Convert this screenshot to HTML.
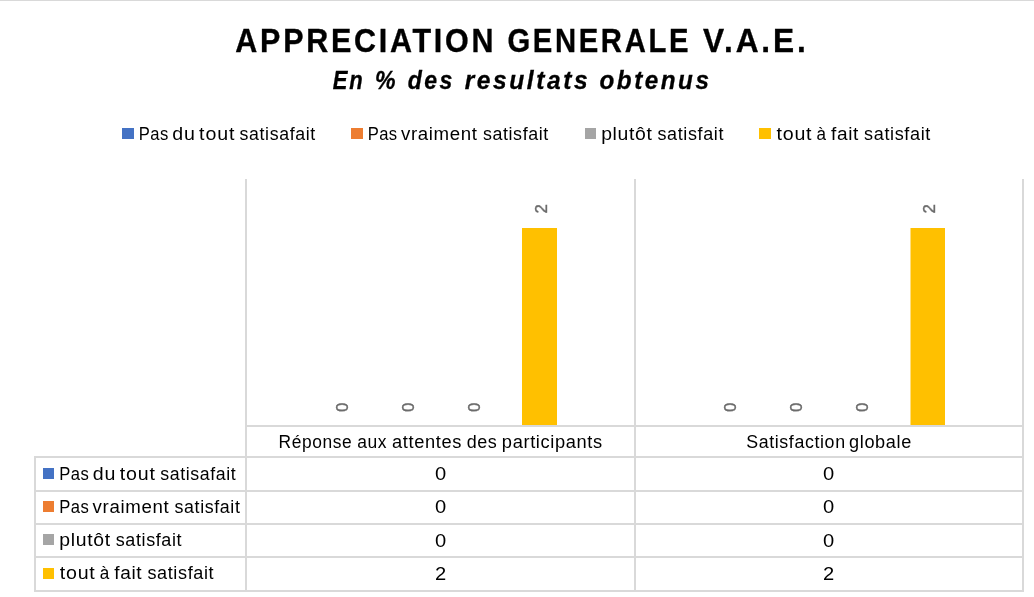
<!DOCTYPE html>
<html lang="fr">
<head>
<meta charset="utf-8">
<title>APPRECIATION GENERALE V.A.E.</title>
<style>
html,body{margin:0;padding:0;background:#fff;}
body{width:1034px;height:597px;overflow:hidden;position:relative;}
svg{position:absolute;left:0;top:0;display:block;}
text{font-family:"Liberation Sans",sans-serif;fill:#000;}
.t1{font-size:33.3px;font-weight:bold;stroke:#000;stroke-width:0.35px;}
.t2{font-size:25px;font-weight:bold;font-style:italic;stroke:#000;stroke-width:0.3px;}
.lg{font-size:17.5px;}
.dl{font-size:16.8px;fill:#6b6b6b;stroke:#6b6b6b;stroke-width:0.4px;}
.gl{fill:#d9d9d9;}
</style>
</head>
<body>
<svg width="1034" height="597" viewBox="0 0 1034 597">
<rect x="0" y="0" width="1034" height="597" fill="#ffffff"/>
<rect class="gl" x="0" y="0" width="1034" height="1"/>

<!-- legend markers -->
<rect x="122" y="128" width="12" height="11" fill="#4472c4"/>
<rect x="351" y="128" width="12" height="11" fill="#ed7d31"/>
<rect x="585" y="128" width="11" height="11" fill="#a5a5a5"/>
<rect x="759" y="128" width="12" height="11" fill="#ffc000"/>

<!-- grid / table lines -->
<rect class="gl" x="245" y="179" width="2" height="413"/>
<rect class="gl" x="634" y="179" width="2" height="413"/>
<rect class="gl" x="1022" y="179" width="2" height="413"/>
<rect class="gl" x="34" y="456" width="2" height="136"/>
<rect class="gl" x="245" y="425" width="779" height="2"/>
<rect class="gl" x="34" y="456" width="990" height="2"/>
<rect class="gl" x="34" y="490" width="990" height="2"/>
<rect class="gl" x="34" y="523" width="990" height="2"/>
<rect class="gl" x="34" y="556" width="990" height="2"/>
<rect class="gl" x="34" y="590" width="990" height="2"/>

<!-- bars -->
<rect x="522" y="228" width="35" height="197" fill="#ffc000"/>
<rect x="910.5" y="228" width="34.5" height="197" fill="#ffc000"/>

<!-- data labels -->
<text class="dl" transform="translate(348,411.9) rotate(-90)">0</text>
<text class="dl" transform="translate(414,411.9) rotate(-90)">0</text>
<text class="dl" transform="translate(480,411.9) rotate(-90)">0</text>
<text class="dl" transform="translate(547,213.6) rotate(-90)">2</text>
<text class="dl" transform="translate(736,411.9) rotate(-90)">0</text>
<text class="dl" transform="translate(802,411.9) rotate(-90)">0</text>
<text class="dl" transform="translate(868,411.9) rotate(-90)">0</text>
<text class="dl" transform="translate(934.6,213.6) rotate(-90)">2</text>

<!-- table row markers -->
<rect x="43" y="468" width="11" height="11" fill="#4472c4"/>
<rect x="43" y="501" width="11" height="11" fill="#ed7d31"/>
<rect x="43" y="534" width="11" height="11" fill="#a5a5a5"/>
<rect x="43" y="568" width="11" height="11" fill="#ffc000"/>

<!-- table values -->
<text class="lg" x="440.5" y="480" text-anchor="middle" textLength="11.2" lengthAdjust="spacingAndGlyphs">0</text>
<text class="lg" x="828.7" y="480" text-anchor="middle" textLength="11.2" lengthAdjust="spacingAndGlyphs">0</text>
<text class="lg" x="440.5" y="513" text-anchor="middle" textLength="11.2" lengthAdjust="spacingAndGlyphs">0</text>
<text class="lg" x="828.7" y="513" text-anchor="middle" textLength="11.2" lengthAdjust="spacingAndGlyphs">0</text>
<text class="lg" x="440.5" y="547" text-anchor="middle" textLength="11.2" lengthAdjust="spacingAndGlyphs">0</text>
<text class="lg" x="828.7" y="547" text-anchor="middle" textLength="11.2" lengthAdjust="spacingAndGlyphs">0</text>
<text class="lg" x="440.5" y="580" text-anchor="middle" textLength="11.2" lengthAdjust="spacingAndGlyphs">2</text>
<text class="lg" x="828.7" y="580" text-anchor="middle" textLength="11.2" lengthAdjust="spacingAndGlyphs">2</text>

<!-- title, subtitle, legend text, table header, row labels -->
<text class="t1" y="51.9"><tspan x="235.35" textLength="260.77" lengthAdjust="spacingAndGlyphs" style="letter-spacing:3.0px">APPRECIATION</tspan> <tspan x="507.45" textLength="183.6" lengthAdjust="spacingAndGlyphs" style="letter-spacing:3.0px">GENERALE</tspan> <tspan x="702.95" textLength="105.65" lengthAdjust="spacingAndGlyphs" style="letter-spacing:3.0px">V.A.E.</tspan></text>
<text class="t2" y="89.0"><tspan x="332.8" textLength="31.45" lengthAdjust="spacingAndGlyphs" style="letter-spacing:1.89px">En</tspan> <tspan x="375.05" textLength="20.53" lengthAdjust="spacingAndGlyphs" style="letter-spacing:0px">%</tspan> <tspan x="407.85" textLength="46.97" lengthAdjust="spacingAndGlyphs" style="letter-spacing:2.6px">des</tspan> <tspan x="464.7" textLength="125.5" lengthAdjust="spacingAndGlyphs" style="letter-spacing:2.6px">resultats</tspan> <tspan x="599.55" textLength="111.89" lengthAdjust="spacingAndGlyphs" style="letter-spacing:2.6px">obtenus</tspan></text>
<text class="lg" y="139.7"><tspan x="138.75" textLength="29.86" lengthAdjust="spacingAndGlyphs" style="letter-spacing:0.43px">Pas</tspan> <tspan x="172.25" textLength="23.4" lengthAdjust="spacingAndGlyphs" style="letter-spacing:0.71px">du</tspan> <tspan x="199.05" textLength="36.29" lengthAdjust="spacingAndGlyphs" style="letter-spacing:0.8px">tout</tspan> <tspan x="239.6" textLength="76.18" lengthAdjust="spacingAndGlyphs" style="letter-spacing:0.6px">satisafait</tspan></text>
<text class="lg" y="139.7"><tspan x="367.65" textLength="29.86" lengthAdjust="spacingAndGlyphs" style="letter-spacing:0.43px">Pas</tspan> <tspan x="401.0" textLength="76.66" lengthAdjust="spacingAndGlyphs" style="letter-spacing:0.6px">vraiment</tspan> <tspan x="482.9" textLength="66.0" lengthAdjust="spacingAndGlyphs" style="letter-spacing:0.6px">satisfait</tspan></text>
<text class="lg" y="139.7"><tspan x="601.15" textLength="51.44" lengthAdjust="spacingAndGlyphs" style="letter-spacing:0.6px">plutôt</tspan> <tspan x="657.5" textLength="66.51" lengthAdjust="spacingAndGlyphs" style="letter-spacing:0.6px">satisfait</tspan></text>
<text class="lg" y="139.7"><tspan x="776.55" textLength="35.75" lengthAdjust="spacingAndGlyphs" style="letter-spacing:0.68px">tout</tspan> <tspan x="816.45" textLength="9.52" lengthAdjust="spacingAndGlyphs" style="letter-spacing:0px">à</tspan> <tspan x="830.95" textLength="28.04" lengthAdjust="spacingAndGlyphs" style="letter-spacing:0.6px">fait</tspan> <tspan x="864.1" textLength="66.82" lengthAdjust="spacingAndGlyphs" style="letter-spacing:0.6px">satisfait</tspan></text>
<text class="lg" y="447.6"><tspan x="278.6" textLength="73.79" lengthAdjust="spacingAndGlyphs" style="letter-spacing:0.6px">Réponse</tspan> <tspan x="357.15" textLength="29.97" lengthAdjust="spacingAndGlyphs" style="letter-spacing:0.6px">aux</tspan> <tspan x="391.95" textLength="70.06" lengthAdjust="spacingAndGlyphs" style="letter-spacing:0.6px">attentes</tspan> <tspan x="466.65" textLength="30.82" lengthAdjust="spacingAndGlyphs" style="letter-spacing:0.6px">des</tspan> <tspan x="501.85" textLength="100.99" lengthAdjust="spacingAndGlyphs" style="letter-spacing:0.6px">participants</tspan></text>
<text class="lg" y="447.6"><tspan x="746.15" textLength="99.52" lengthAdjust="spacingAndGlyphs" style="letter-spacing:0.6px">Satisfaction</tspan> <tspan x="849.05" textLength="62.83" lengthAdjust="spacingAndGlyphs" style="letter-spacing:0.6px">globale</tspan></text>
<text class="lg" y="479.7"><tspan x="59.35" textLength="29.86" lengthAdjust="spacingAndGlyphs" style="letter-spacing:0.43px">Pas</tspan> <tspan x="92.85" textLength="23.4" lengthAdjust="spacingAndGlyphs" style="letter-spacing:0.71px">du</tspan> <tspan x="119.65" textLength="36.29" lengthAdjust="spacingAndGlyphs" style="letter-spacing:0.8px">tout</tspan> <tspan x="160.2" textLength="76.18" lengthAdjust="spacingAndGlyphs" style="letter-spacing:0.6px">satisafait</tspan></text>
<text class="lg" y="512.8"><tspan x="59.25" textLength="29.86" lengthAdjust="spacingAndGlyphs" style="letter-spacing:0.43px">Pas</tspan> <tspan x="92.6" textLength="76.66" lengthAdjust="spacingAndGlyphs" style="letter-spacing:0.6px">vraiment</tspan> <tspan x="174.5" textLength="66.0" lengthAdjust="spacingAndGlyphs" style="letter-spacing:0.6px">satisfait</tspan></text>
<text class="lg" y="545.7"><tspan x="59.35" textLength="51.44" lengthAdjust="spacingAndGlyphs" style="letter-spacing:0.6px">plutôt</tspan> <tspan x="115.7" textLength="66.51" lengthAdjust="spacingAndGlyphs" style="letter-spacing:0.6px">satisfait</tspan></text>
<text class="lg" y="578.8"><tspan x="59.85" textLength="35.75" lengthAdjust="spacingAndGlyphs" style="letter-spacing:0.68px">tout</tspan> <tspan x="99.75" textLength="9.52" lengthAdjust="spacingAndGlyphs" style="letter-spacing:0px">à</tspan> <tspan x="114.25" textLength="28.04" lengthAdjust="spacingAndGlyphs" style="letter-spacing:0.6px">fait</tspan> <tspan x="147.4" textLength="66.82" lengthAdjust="spacingAndGlyphs" style="letter-spacing:0.6px">satisfait</tspan></text>
</svg>
</body>
</html>
